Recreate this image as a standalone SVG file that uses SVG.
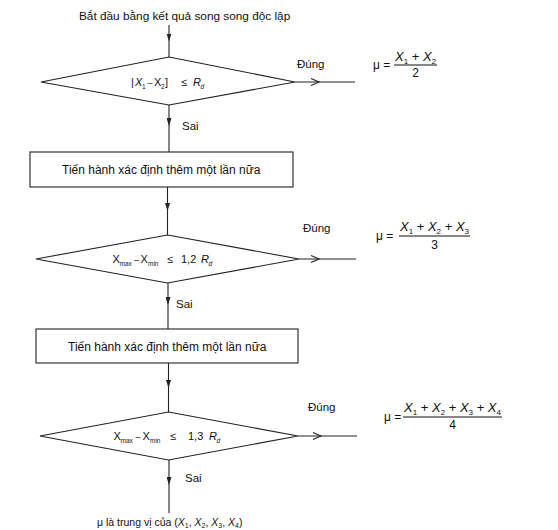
<svg xmlns="http://www.w3.org/2000/svg" width="558" height="530" viewBox="0 0 558 530">
<style>
  text { font-family: "Liberation Sans", Arial, sans-serif; fill: #111; }
  .shape { fill: #fff; stroke: #222; stroke-width: 1.1; }
  .conn { fill: none; stroke: #222; stroke-width: 1.1; }
  .t12 { font-size: 12px; }
  .lbl { font-size: 11.5px; }
  .cond { font-size: 11px; }
  .sub { font-size: 6.5px; }
  .dash { font-size: 9px; }
  .i { font-style: italic; }
  .num { font-size: 13px; text-anchor: middle; }
  .fs { font-size: 8px; }
  .den { font-size: 12px; text-anchor: middle; }
  .bar { stroke: #111; stroke-width: 1; }
</style>
<defs>
  <marker id="ah" viewBox="0 0 8 5" refX="8" refY="2.5" markerWidth="8" markerHeight="5" markerUnits="userSpaceOnUse" orient="auto">
    <path d="M0,0 L8,2.5 L0,5 z" fill="#222"/>
  </marker>
  <marker id="chev" viewBox="-1 -1 10 9" refX="8" refY="3.5" markerWidth="10" markerHeight="9" markerUnits="userSpaceOnUse" orient="auto" overflow="visible">
    <path d="M0,0 L8,3.5 L0,7" fill="none" stroke="#222" stroke-width="1.1"/>
  </marker>
</defs>
<rect width="558" height="530" fill="#fff"/>

<g id="connectors">
  <polyline class="conn" points="169,25 169,41.5 169,57" marker-mid="url(#ah)"/>
  <polyline class="conn" points="169,105 169,126 169,152" marker-mid="url(#ah)"/>
  <polyline class="conn" points="167.5,187 167.5,211 167.5,235" marker-mid="url(#ah)"/>
  <polyline class="conn" points="168,283 168,305 168,329" marker-mid="url(#ah)"/>
  <polyline class="conn" points="168.5,363 168.5,388 168.5,412" marker-mid="url(#ah)"/>
  <polyline class="conn" points="169,460 169,485 169,513" marker-mid="url(#ah)"/>
  <polyline class="conn" points="295,82 319,82 355,82" marker-mid="url(#chev)"/>
  <polyline class="conn" points="299,259 319,259 356,259" marker-mid="url(#chev)"/>
  <polyline class="conn" points="298,436 321,436 357,436" marker-mid="url(#chev)"/>
  <text class="lbl" x="182" y="129.5">Sai</text>
  <text class="lbl" x="176" y="308">Sai</text>
  <text class="lbl" x="185" y="481.5">Sai</text>
  <text class="lbl" x="297" y="68">Đúng</text>
  <text class="lbl" x="303" y="232">Đúng</text>
  <text class="lbl" x="308" y="411">Đúng</text>
</g>

<g id="start">
  <text class="t12" x="79" y="19.5" style="font-size:11.8px">Bắt đầu bằng kết quả song song độc lập</text>
</g>

<g id="decision1">
  <polygon class="shape" points="169,57 295,82 169,105 41,82"/>
  <text class="cond" y="86"><tspan x="131">|</tspan><tspan x="135" class="i">X</tspan><tspan x="142" y="88.5" class="sub">1</tspan><tspan x="147.5" y="86" class="dash">–</tspan><tspan x="154">X</tspan><tspan x="161" y="88.5" class="sub">2</tspan><tspan x="165" y="86">]</tspan><tspan x="181">≤</tspan><tspan x="193" class="i">R</tspan><tspan x="200.5" y="88.5" class="sub i">d</tspan></text>
</g>

<g id="result1">
  <text class="t12" x="373" y="69">μ =</text>
  <text class="num" x="415.5" y="61"><tspan class="i">X</tspan><tspan class="fs" dy="2.5">1</tspan><tspan dy="-2.5"> + </tspan><tspan class="i">X</tspan><tspan class="fs" dy="2.5">2</tspan></text>
  <line class="bar" x1="394" y1="65" x2="437" y2="65"/>
  <text class="den" x="415.5" y="77">2</text>
</g>

<g id="process1">
  <rect class="shape" x="30" y="152" width="263" height="35"/>
  <text class="t12" x="62" y="173.5">Tiến hành xác định thêm một lần nữa</text>
</g>

<g id="decision2">
  <polygon class="shape" points="167.5,235 299,259 167.5,283 36,259"/>
  <text class="cond" y="263"><tspan x="112.5">X</tspan><tspan x="119.5" y="265.5" class="sub">max</tspan><tspan x="134" y="263" class="dash">–</tspan><tspan x="140.5">X</tspan><tspan x="148" y="265.5" class="sub">min</tspan><tspan x="167" y="263">≤</tspan><tspan x="181">1,2</tspan><tspan x="201" class="i">R</tspan><tspan x="208.5" y="265.5" class="sub i">d</tspan></text>
</g>

<g id="result2">
  <text class="t12" x="376" y="240">μ =</text>
  <text class="num" x="434.5" y="231"><tspan class="i">X</tspan><tspan class="fs" dy="2.5">1</tspan><tspan dy="-2.5"> + </tspan><tspan class="i">X</tspan><tspan class="fs" dy="2.5">2</tspan><tspan dy="-2.5"> + </tspan><tspan class="i">X</tspan><tspan class="fs" dy="2.5">3</tspan></text>
  <line class="bar" x1="399" y1="236" x2="470" y2="236"/>
  <text class="den" x="434.5" y="248.5">3</text>
</g>

<g id="process2">
  <rect class="shape" x="36" y="329" width="262" height="34"/>
  <text class="t12" x="68" y="350.5">Tiến hành xác định thêm một lần nữa</text>
</g>

<g id="decision3">
  <polygon class="shape" points="168.5,412 298,436 168.5,460 40,436"/>
  <text class="cond" y="440"><tspan x="113.5">X</tspan><tspan x="120.5" y="442.5" class="sub">max</tspan><tspan x="135.5" y="440" class="dash">–</tspan><tspan x="142.5">X</tspan><tspan x="150" y="442.5" class="sub">min</tspan><tspan x="170" y="440">≤</tspan><tspan x="188">1,3</tspan><tspan x="209" class="i">R</tspan><tspan x="216.5" y="442.5" class="sub i">d</tspan></text>
</g>

<g id="result3">
  <text class="t12" x="384" y="421">μ =</text>
  <text class="num" x="452.5" y="412"><tspan class="i">X</tspan><tspan class="fs" dy="2.5">1</tspan><tspan dy="-2.5"> + </tspan><tspan class="i">X</tspan><tspan class="fs" dy="2.5">2</tspan><tspan dy="-2.5"> + </tspan><tspan class="i">X</tspan><tspan class="fs" dy="2.5">3</tspan><tspan dy="-2.5"> + </tspan><tspan class="i">X</tspan><tspan class="fs" dy="2.5">4</tspan></text>
  <line class="bar" x1="403" y1="417" x2="502" y2="417"/>
  <text class="den" x="452.5" y="429">4</text>
</g>

<g id="median">
  <text x="97" y="526" style="font-size:10.5px">μ  là trung vị của (<tspan class="i">X</tspan><tspan font-size="7" dy="2">1</tspan><tspan dy="-2">, </tspan><tspan class="i">X</tspan><tspan font-size="7" dy="2">2</tspan><tspan dy="-2">, </tspan><tspan class="i">X</tspan><tspan font-size="7" dy="2">3</tspan><tspan dy="-2">, </tspan><tspan class="i">X</tspan><tspan font-size="7" dy="2">4</tspan><tspan dy="-2">)</tspan></text>
</g>
</svg>
